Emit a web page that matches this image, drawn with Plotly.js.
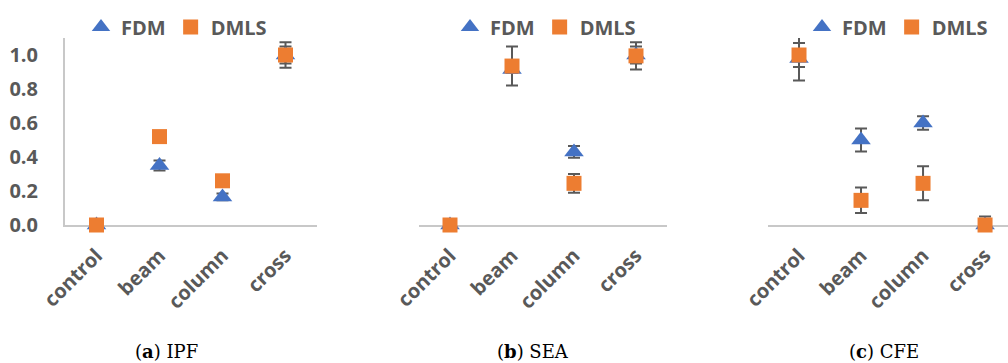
<!DOCTYPE html>
<html>
<head>
<meta charset="utf-8">
<script src="https://cdn.plot.ly/plotly-3.0.1.min.js"></script>
<style>
  html, body { margin: 0; padding: 0; background: #ffffff; }
  #chart { width: 1008px; height: 363px; }
</style>
</head>
<body>
<div id="chart"></div>
<script>
// Specimen categories shared by all three panels
const categories = ["control", "beam", "column", "cross"];

// (a) IPF  (null = no error bar)
const ipfFdm = [0, 0.35, 0.165, 1.0];
const ipfFdmErr = [null, 0.03, 0.02, 0.075];
const ipfDmls = [0, 0.52, 0.26, 1.0];
const ipfDmlsErr = [null, null, null, 0.05];

// (b) SEA
const seaFdm = [0, 0.915, 0.43, 1.0];
const seaFdmErr = [null, 0.02, 0.035, 0.05];
const seaDmls = [0, 0.935, 0.245, 0.995];
const seaDmlsErr = [null, 0.115, 0.055, 0.08];

// (c) CFE
const cfeFdm = [0.98, 0.50, 0.60, 0];
const cfeFdmErr = [0.13, 0.067, 0.04, null];
const cfeDmls = [1.0, 0.145, 0.245, 0];
const cfeDmlsErr = [0.07, 0.075, 0.1, 0.05];

const yTicks = [0, 0.2, 0.4, 0.6, 0.8, 1.0];
const panelCaptions = ["(<b>a</b>) IPF", "(<b>b</b>) SEA", "(<b>c</b>) CFE"];

const W = 1008, H = 363;
const px = v => v / W;
const py = v => 1 - v / H;

const BLUE = "#4472C4";
const ORANGE = "#ED7D31";
const GREY_TEXT = "#595959";
const ERR = "#595959";
const AXIS = "#C8C8C8";
const SANS = "Open Sans, Noto Sans, sans-serif";

const panels = [
  { fdm: ipfFdm, fdmErr: ipfFdmErr, dmls: ipfDmls, dmlsErr: ipfDmlsErr },
  { fdm: seaFdm, fdmErr: seaFdmErr, dmls: seaDmls, dmlsErr: seaDmlsErr },
  { fdm: cfeFdm, fdmErr: cfeFdmErr, dmls: cfeDmls, dmlsErr: cfeDmlsErr }
];

const legendNames = ["legend", "legend2", "legend3"];

// error bars go in first so that every marker sits on top of them
const errTraces = [];
const markTraces = [];
panels.forEach((p, i) => {
  const xa = i === 0 ? "x" : "x" + (i + 1);
  const ya = i === 0 ? "y" : "y" + (i + 1);
  [[p.fdm, p.fdmErr], [p.dmls, p.dmlsErr]].forEach(([vals, errs]) => {
    errTraces.push({
      type: "scatter", mode: "markers", showlegend: false,
      x: categories, y: vals, xaxis: xa, yaxis: ya, cliponaxis: false,
      marker: { size: 4, opacity: 0 },
      error_y: { type: "data", array: errs, visible: true, color: ERR, thickness: 2, width: 6 },
      hoverinfo: "skip"
    });
  });
  markTraces.push({
    type: "scatter", mode: "markers", name: "FDM",
    x: categories, y: p.fdm, xaxis: xa, yaxis: ya,
    legend: legendNames[i], cliponaxis: false,
    marker: { symbol: "triangle-up", size: 17, color: BLUE },
    hoverinfo: "x+y"
  });
  markTraces.push({
    type: "scatter", mode: "markers", name: "DMLS",
    x: categories, y: p.dmls, xaxis: xa, yaxis: ya,
    legend: legendNames[i], cliponaxis: false,
    marker: { symbol: "square", size: 15, color: ORANGE },
    hoverinfo: "x+y"
  });
});
const traces = errTraces.concat(markTraces);

const yDomain = [py(225), py(38)];
const xDomains = [[px(65), px(317)], [px(419), px(667)], [px(768), 1]];
const xRanges = [[-0.5, 3.5], [-0.5, 3.5], [-0.5, 3.37]];

const layout = {
  width: W, height: H,
  margin: { l: 0, r: 0, t: 0, b: 0 },
  paper_bgcolor: "#ffffff", plot_bgcolor: "rgba(0,0,0,0)",
  font: { family: SANS, color: GREY_TEXT },
  showlegend: true,
  annotations: []
};

const legendX = [81, 450, 802];
legendNames.forEach((ln, i) => {
  layout[ln] = {
    orientation: "h", x: px(legendX[i]), y: py(27),
    xanchor: "left", yanchor: "middle",
    font: { family: SANS, size: 20, color: GREY_TEXT, weight: "bold" },
    bgcolor: "rgba(0,0,0,0)", itemclick: false, itemdoubleclick: false,
    tracegroupgap: 0
  };
});

xDomains.forEach((d, i) => {
  const suffix = i === 0 ? "" : String(i + 1);
  layout["xaxis" + suffix] = {
    domain: d, range: xRanges[i], type: "category",
    anchor: "y" + suffix, layer: "below traces",
    showline: true, linecolor: AXIS, linewidth: 2,
    showgrid: false, zeroline: false, ticks: "",
    tickangle: -45, ticklabelstandoff: 9,
    tickfont: { family: SANS, size: 20, color: GREY_TEXT, weight: "bold" },
    fixedrange: true
  };
  layout["yaxis" + suffix] = {
    domain: yDomain, range: [0, 1.1],
    anchor: "x" + suffix, layer: "below traces",
    showline: i === 0, linecolor: AXIS, linewidth: 2,
    showgrid: false, zeroline: false, ticks: "",
    tickvals: yTicks, ticktext: yTicks.map(v => v.toFixed(1)),
    showticklabels: i === 0, ticklabelstandoff: 21,
    tickfont: { family: SANS, size: 20, color: GREY_TEXT, weight: "bold" },
    fixedrange: true
  };
});

const captionX = [166, 533, 884];
panelCaptions.forEach((t, i) => {
  layout.annotations.push({
    xref: "paper", yref: "paper", x: px(captionX[i]), y: py(351),
    xanchor: "center", yanchor: "middle", showarrow: false,
    text: t, font: { family: "DejaVu Serif, serif", size: 18, color: "#000000" }
  });
});

Plotly.newPlot("chart", traces, layout, { displayModeBar: false, staticPlot: true });
</script>
</body>
</html>
